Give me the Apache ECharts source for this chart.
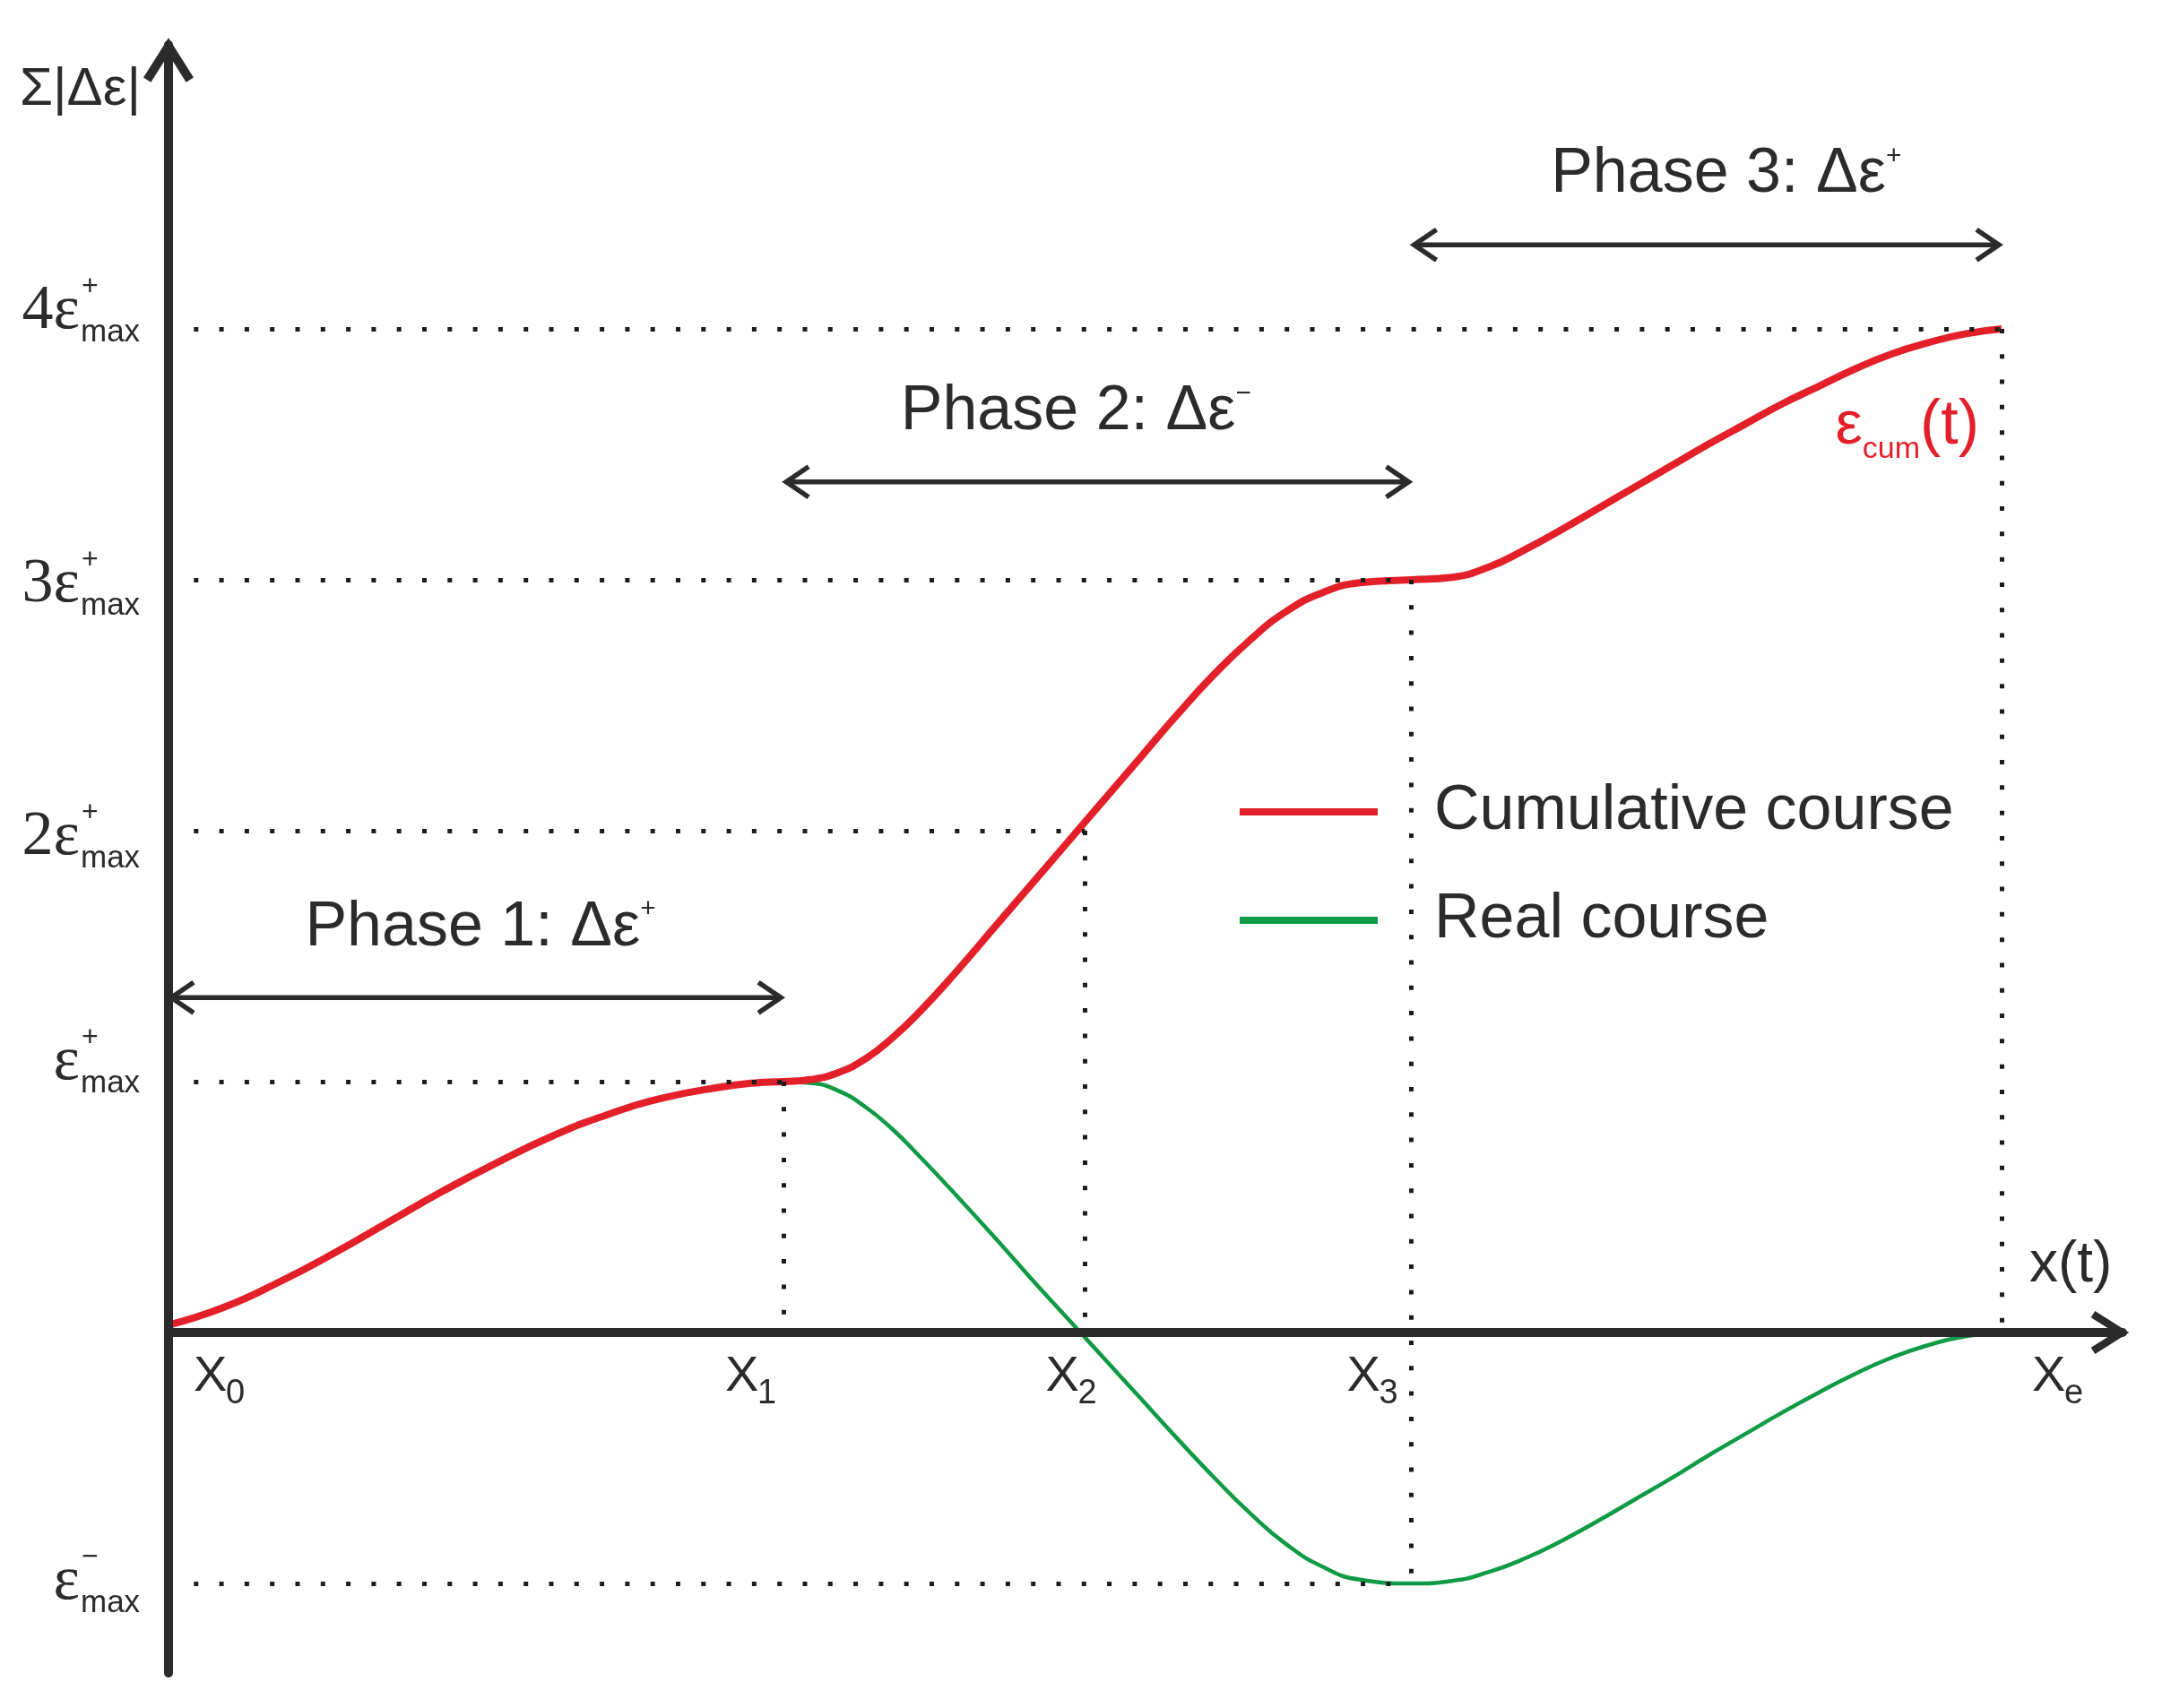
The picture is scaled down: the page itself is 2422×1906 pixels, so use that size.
<!DOCTYPE html>
<html>
<head>
<meta charset="utf-8">
<script src="https://cdn.jsdelivr.net/npm/echarts@6/dist/echarts.min.js"></script>
<style>
html,body{margin:0;padding:0;background:#ffffff;}
#chart{width:2422px;height:1906px;}
</style>
</head>
<body>
<div id="chart"></div>
<script>
// ---------------- data ----------------
const markerX = [0, 3.355, 5.0, 6.78, 10];
const markerSubs = ['0', '1', '2', '3', 'e'];

const yTickValues = [-1, 1, 2, 3, 4];
const yTickCoef = ['', '', '2', '3', '4'];
const yTickSup = ['\u2212', '+', '+', '+', '+'];

// cumulative course (red)
const cumX = [0, 0.3, 0.6, 0.9, 1.2, 1.5, 1.8, 2.1, 2.4, 2.7, 3.0, 3.2, 3.355,
  3.5, 3.65, 3.8, 3.95, 4.1, 4.3, 4.5, 4.7, 4.9, 5.1, 5.3, 5.5, 5.7, 5.9, 6.1, 6.3, 6.5, 6.78,
  7.0, 7.2, 7.4, 7.6, 7.8, 8.0, 8.2, 8.4, 8.6, 8.8, 9.0, 9.2, 9.4, 9.6, 9.8, 10];
const cumY = [0.03, 0.10, 0.20, 0.315, 0.44, 0.565, 0.68, 0.785, 0.87, 0.935, 0.977, 0.995, 1.0,
  1.008, 1.035, 1.09, 1.175, 1.28, 1.44, 1.61, 1.78, 1.95, 2.12, 2.29, 2.46, 2.62, 2.76, 2.875, 2.95, 2.988, 3.0,
  3.01, 3.05, 3.12, 3.20, 3.285, 3.37, 3.455, 3.54, 3.62, 3.70, 3.77, 3.84, 3.90, 3.945, 3.98, 4.0];

// real course (green)
const realX = [0, 0.3, 0.6, 0.9, 1.2, 1.5, 1.8, 2.1, 2.4, 2.7, 3.0, 3.2, 3.355,
  3.5, 3.65, 3.8, 3.95, 4.1, 4.3, 4.5, 4.7, 4.9, 5.1, 5.3, 5.5, 5.7, 5.9, 6.1, 6.3, 6.5, 6.78,
  7.0, 7.2, 7.4, 7.6, 7.8, 8.0, 8.2, 8.4, 8.6, 8.8, 9.0, 9.2, 9.4, 9.6, 9.8, 10];
const realY = [0.03, 0.10, 0.20, 0.315, 0.44, 0.565, 0.68, 0.785, 0.87, 0.935, 0.977, 0.995, 1.0,
  0.995, 0.965, 0.90, 0.81, 0.70, 0.545, 0.385, 0.22, 0.06, -0.10, -0.26, -0.42, -0.575, -0.72, -0.845, -0.935, -0.985, -1.0,
  -0.99, -0.955, -0.90, -0.83, -0.75, -0.665, -0.58, -0.49, -0.405, -0.32, -0.24, -0.165, -0.10, -0.05, -0.015, 0];

const phaseFrom = [0, 3.355, 6.78];
const phaseTo = [3.355, 6.78, 10];
const phaseLevel = [1.335, 3.39, 4.335];
const phaseText = ['Phase 1: \u0394\u03b5', 'Phase 2: \u0394\u03b5', 'Phase 3: \u0394\u03b5'];
const phaseSup = ['+', '\u2212', '+'];

const guideFrom = [[0, 4], [0, 3], [0, 2], [0, 1], [0, -1], [3.355, 1], [5.0, 2], [6.78, 3], [10, 4]];
const guideTo = [[10, 4], [6.78, 3], [5.0, 2], [3.355, 1], [6.78, -1], [3.355, 0], [5.0, 0], [6.78, -1], [10, 0]];

const seriesNames = ['Cumulative course', 'Real course'];

// ---------------- styles ----------------
const INK = '#2b2b2b';
const RED = '#e3202a';
const GREEN = '#0f9a45';
const SANS = '"Liberation Sans", Arial, Helvetica, sans-serif';
const SERIF = '"Liberation Serif", "Times New Roman", serif';
const chevron = 'path://M0,-9.37L28.23,35.33L19.77,40.67L0,9.37L-19.77,40.67L-28.23,35.33Z';

// per-label layout nudges (pixels)
const yLabelShift = [16, -4, 25, 23, -2];     // baseline of main glyphs relative to tick
const xLabelDx = [28, -65, -44, -72, 34];     // left edge of "X" relative to tick
const phaseDx = [5, -24, 22];

function zip(xs, ys) { return xs.map(function (x, i) { return [x, ys[i]]; }); }

const chart = echarts.init(document.getElementById('chart'), null, {renderer: 'canvas'});

const option = {
  animation: false,
  backgroundColor: '#ffffff',
  textStyle: {fontFamily: SANS},
  grid: {left: 188, right: 54, top: 50, bottom: 39, containLabel: false, outerBoundsMode: 'none'},
  legend: {
    data: seriesNames,
    orient: 'vertical',
    left: 1378,
    top: 866,
    icon: 'rect',
    itemWidth: 154,
    itemHeight: 8,
    itemGap: 51,
    selectedMode: false,
    textStyle: {fontFamily: SANS, fontSize: 70, lineHeight: 70, color: INK, padding: [0, 0, 0, 58]}
  },
  xAxis: {
    type: 'value', min: 0, max: 10.66, z: 5,
    axisLine: {onZero: true, lineStyle: {color: INK, width: 10},
      symbol: ['none', chevron], symbolSize: [48, 44], symbolOffset: [0, -14]},
    axisTick: {show: false},
    splitLine: {show: false},
    axisLabel: {show: false},
    name: 'x(t)', nameLocation: 'end', nameGap: -104, nameMoveOverlap: false,
    nameTextStyle: {fontFamily: SANS, fontSize: 64, lineHeight: 150, color: INK, align: 'left', verticalAlign: 'bottom'}
  },
  yAxis: {
    type: 'value', min: -1.357, max: 5.132, z: 5,
    axisLine: {onZero: true, lineStyle: {color: INK, width: 10},
      symbol: ['none', chevron], symbolSize: [56, 50], symbolOffset: [0, -17]},
    axisTick: {show: false},
    splitLine: {show: false},
    axisLabel: {show: false},
    name: '\u03a3|\u0394\u03b5|', nameLocation: 'end', nameGap: -50, nameMoveOverlap: false,
    nameTextStyle: {fontFamily: SANS, fontSize: 60, color: INK, align: 'right', verticalAlign: 'middle', padding: [0, 31, 0, 0]}
  },
  series: [
    {
      name: seriesNames[1],
      type: 'line',
      data: zip(realX, realY),
      smooth: 0.5,
      showSymbol: false,
      symbol: 'none',
      z: 2,
      color: GREEN,
      itemStyle: {color: GREEN},
      lineStyle: {color: GREEN, width: 4.5},
      markLine: {
        silent: true,
        symbol: ['none', 'none'],
        label: {show: false},
        lineStyle: {color: '#1c1c1c', width: 5, type: [5, 23.3], cap: 'butt'},
        emphasis: {disabled: true},
        data: guideFrom.map(function (f, i) { return [{coord: f}, {coord: guideTo[i]}]; })
      }
    },
    {
      name: seriesNames[0],
      type: 'line',
      data: zip(cumX, cumY),
      smooth: 0.5,
      showSymbol: false,
      symbol: 'none',
      z: 3,
      color: RED,
      itemStyle: {color: RED},
      lineStyle: {color: RED, width: 8},
      markPoint: {
        silent: true,
        symbol: 'circle',
        symbolSize: 0,
        itemStyle: {color: 'rgba(0,0,0,0)'},
        data: [{coord: [cumX[cumX.length - 1], cumY[cumY.length - 1]]}],
        label: {
          show: true, position: 'inside', align: 'right', verticalAlign: 'middle', offset: [-25, 109],
          formatter: function () { return '{ee|\u03b5}{cc|cum}{pp|(t)}'; },
          rich: {
            ee: {fontFamily: SANS, fontSize: 68, lineHeight: 86, color: RED},
            cc: {fontFamily: SANS, fontSize: 34, lineHeight: 20, verticalAlign: 'bottom', color: RED},
            pp: {fontFamily: SANS, fontSize: 70, lineHeight: 86, color: RED}
          }
        }
      }
    },
    {
      name: 'phases',
      type: 'custom',
      coordinateSystem: 'cartesian2d',
      silent: true,
      z: 4,
      data: phaseFrom.map(function (f, i) { return [f, phaseTo[i], phaseLevel[i]]; }),
      encode: {x: [0, 1], y: 2},
      renderItem: function (params, api) {
        const i = params.dataIndex;
        const a = api.coord([api.value(0), api.value(2)]);
        const b = api.coord([api.value(1), api.value(2)]);
        const hd = 25, hh = 17, lw = 5.5;
        const st = {stroke: INK, lineWidth: lw, fill: null, lineJoin: 'miter'};
        return {
          type: 'group',
          children: [
            {type: 'line', shape: {x1: a[0] + 3, y1: a[1], x2: b[0] - 3, y2: b[1]}, style: st},
            {type: 'polyline', shape: {points: [[a[0] + 3 + hd, a[1] - hh], [a[0] + 3, a[1]], [a[0] + 3 + hd, a[1] + hh]]}, style: st},
            {type: 'polyline', shape: {points: [[b[0] - 3 - hd, b[1] - hh], [b[0] - 3, b[1]], [b[0] - 3 - hd, b[1] + hh]]}, style: st},
            {
              type: 'text',
              x: (a[0] + b[0]) / 2 + phaseDx[i],
              y: a[1] - 78,
              style: {
                text: '{t|' + phaseText[i] + '}{s|' + phaseSup[i] + '}',
                align: 'center',
                verticalAlign: 'middle',
                rich: {
                  t: {fontFamily: SANS, fontSize: 70, lineHeight: 70, fill: INK},
                  s: {fontFamily: SANS, fontSize: 30, lineHeight: 24, verticalAlign: 'top', fill: INK}
                }
              }
            }
          ]
        };
      }
    },
    {
      name: 'yTickLabels',
      type: 'custom',
      coordinateSystem: 'cartesian2d',
      silent: true,
      clip: false,
      z: 6,
      data: yTickValues.map(function (v) { return [0, v]; }),
      encode: {x: 0, y: 1},
      renderItem: function (params, api) {
        const i = params.dataIndex;
        const p = api.coord([api.value(0), api.value(1)]);
        const base = p[1] + yLabelShift[i];
        const xr = p[0] - 99;
        return {
          type: 'group',
          children: [
            {type: 'text', x: xr, y: base - 17,
              style: {text: yTickCoef[i] + '\u03b5', fontFamily: SERIF, fontSize: 70, fill: INK, align: 'right', verticalAlign: 'middle'}},
            {type: 'text', x: xr + 1, y: base + 6,
              style: {text: 'max', fontFamily: SANS, fontSize: 35, fill: INK, align: 'left', verticalAlign: 'middle'}},
            {type: 'text', x: xr + 2, y: base - 45,
              style: {text: yTickSup[i], fontFamily: SANS, fontSize: 32, fill: INK, align: 'left', verticalAlign: 'middle'}}
          ]
        };
      }
    },
    {
      name: 'xTickLabels',
      type: 'custom',
      coordinateSystem: 'cartesian2d',
      silent: true,
      clip: false,
      z: 6,
      data: markerX.map(function (x) { return [x, 0]; }),
      encode: {x: 0, y: 1},
      renderItem: function (params, api) {
        const i = params.dataIndex;
        const p = api.coord([api.value(0), api.value(1)]);
        const xl = p[0] + xLabelDx[i];
        return {
          type: 'group',
          children: [
            {type: 'text', x: xl, y: p[1] + 50,
              style: {text: 'X', fontFamily: SANS, fontSize: 56, fill: INK, align: 'left', verticalAlign: 'middle'}},
            {type: 'text', x: xl + 36, y: p[1] + 68,
              style: {text: markerSubs[i], fontFamily: SANS, fontSize: 38, fill: INK, align: 'left', verticalAlign: 'middle'}}
          ]
        };
      }
    }
  ]
};

chart.setOption(option);
</script>
</body>
</html>
